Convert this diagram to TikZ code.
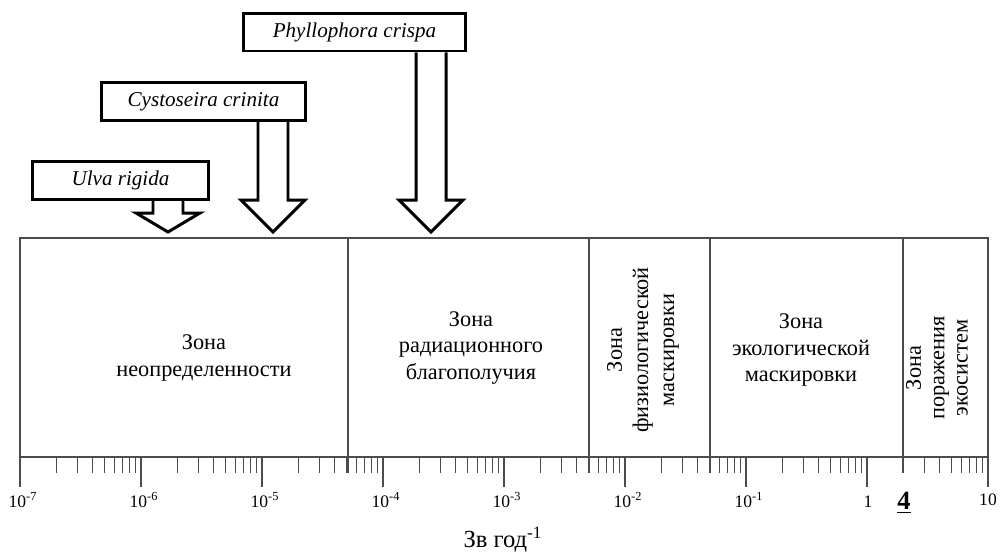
\documentclass[tikz,border=0pt]{standalone}
\usepackage{fontspec}
\setmainfont{Liberation Serif}
\usetikzlibrary{calc}

\tikzset{
	species/.style={draw, line width=1.7pt, minimum height=0.76cm, inner sep=0pt, font=\fontsize{12}{14}\selectfont\itshape},
	zonetext/.style={align=center, font=\fontsize{12.7}{14.9}\selectfont},
	scaleline/.style={draw=black!70, line width=0.6pt},
	fatarrow/.style={draw, line width=1.7pt, line join=miter},
	ticklabel/.style={font=\fontsize{10}{12}\selectfont}
}

\newcommand{\dosearrow}[3]{%
	\draw [fatarrow] ($(#2 |- #1.south)+(-15,0)$) -- ($(#2)+(-15,-#3)$) -- ($(#2)+(-32,-#3)$) -- (#2) -- ($(#2)+(32,-#3)$) -- ($(#2)+(15,-#3)$) -- ($(#2 |- #1.south)+(15,0)$);
}

\begin{document}
\begin{tikzpicture}[x=0.02cm, y=-0.02cm]

\useasboundingbox (0,0) rectangle (1000,556);

\node [species, minimum width=3.54cm] (ulva) at (120.5,180) {Ulva rigida};
\node [species, minimum width=4.1cm] (cyst) at (203.5,101.5) {Cystoseira crinita};
\node [species, minimum width=4.46cm] (phyl) at (354.5,32) {Phyllophora crispa};

\coordinate (ulvatip) at (168,232);
\coordinate (cysttip) at (273,232);
\coordinate (phyltip) at (431,232);
\dosearrow{ulva}{ulvatip}{19}
\dosearrow{cyst}{cysttip}{32}
\dosearrow{phyl}{phyltip}{32}

\draw [scaleline] (20,457) -- (20,238) -- (988,238) -- (988,457);
\draw [scaleline] (20,457) -- (988,457);
\foreach \x in {348,589,710,903}
{
	\draw [scaleline] (\x,238) -- (\x,473);
}
\foreach \k in {0,1,...,8}
{
	\draw [scaleline] ({20+121*\k},457) -- ++(0,30);
}
\foreach \k in {0,1,...,7}
{
	\foreach \m in {2,...,9}
	{
		\draw [scaleline] ({20+121*(\k+log10(\m))},457) -- ++(0,16);
	}
}

\node [zonetext] (uncertain) at (204,358) {Зона\\неопределенности};
\node [zonetext] (wellbeing) at (471,348) {Зона\\радиационного\\благополучия};
\node [zonetext, rotate=90] (physio) at (643,350) {Зона\\физиологической\\маскировки};
\node [zonetext] (ecomask) at (801,350) {Зона\\экологической\\маскировки};
\node [zonetext, rotate=90, font=\fontsize{12.7}{13.3}\selectfont] (damage) at (937,368) {Зона\\поражения\\экосистем};

\foreach \k/\e in {0/-7,1/-6,2/-5,3/-4,4/-3,5/-2,6/-1}
{
	\node [ticklabel] (dec\k) at ({23+121*\k},500) {10\textsuperscript{\e}};
}
\node [ticklabel] (one) at (868,502) {1};
\node [ticklabel] (ten) at (988,500) {10};
\node [font=\fontsize{15}{17}\selectfont\bfseries] (four) at (904,503) {\underline{4}};

\node [font=\fontsize{14}{16}\selectfont] (unit) at (503,540) {Зв год\textsuperscript{-1}};

\end{tikzpicture}
\end{document}
